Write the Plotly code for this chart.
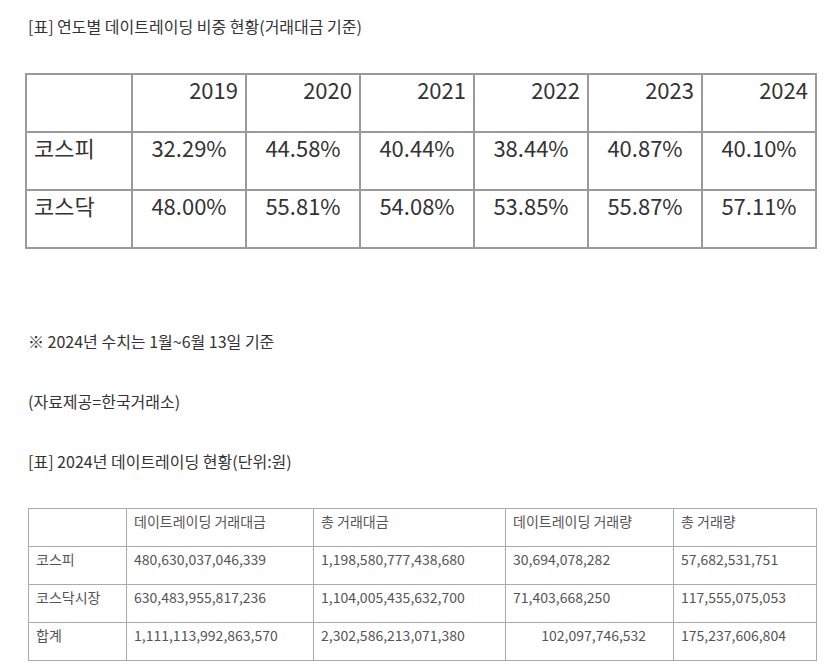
import plotly.graph_objects as go

W, H = 830, 665

# table 1 data
years = ['2019', '2020', '2021', '2022', '2023', '2024']
markets1 = ['코스피', '코스닥']
kospi_share = ['32.29%', '44.58%', '40.44%', '38.44%', '40.87%', '40.10%']
kosdaq_share = ['48.00%', '55.81%', '54.08%', '53.85%', '55.87%', '57.11%']

# table 2 data
headers2 = ['', '데이트레이딩 거래대금', '총 거래대금', '데이트레이딩 거래량', '총 거래량']
markets2 = ['코스피', '코스닥시장', '합계']
day_value = ['480,630,037,046,339', '630,483,955,817,236', '1,111,113,992,863,570']
total_value = ['1,198,580,777,438,680', '1,104,005,435,632,700', '2,302,586,213,071,380']
day_volume = ['30,694,078,282', '71,403,668,250', '102,097,746,532']
total_volume = ['57,682,531,751', '117,555,075,053', '175,237,606,804']


def dom(x0, x1, y0, y1):
    return dict(x=[x0 / W, x1 / W], y=[1 - y1 / H, 1 - y0 / H])


fig = go.Figure()

cols1 = [markets1] + [[kospi_share[i], kosdaq_share[i]] for i in range(len(years))]
fig.add_trace(go.Table(
    domain=dom(18, 808, 66, 242),
    columnwidth=[106] + [114] * 6,
    header=dict(values=[''] + years, height=58, align=['left'] + ['right'] * 6,
                line=dict(color='#9a9a9a', width=2), fill_color='white',
                font=dict(family='Noto Sans CJK KR', size=22, color='#333')),
    cells=dict(values=cols1, height=58, align=['left'] + ['center'] * 6,
               line=dict(color='#9a9a9a', width=2), fill_color='white',
               font=dict(family='Noto Sans CJK KR', size=22, color='#333')),
))

# the last day-volume value sits right-aligned in the source, pad it
day_volume_shown = day_volume[:2] + ['\u00a0' * 9 + day_volume[2]]
cols2 = [markets2, day_value, total_value, day_volume_shown, total_volume]
fig.add_trace(go.Table(
    domain=dom(20, 808, 500, 654),
    columnwidth=[98, 187, 192, 168, 143],
    header=dict(values=headers2, height=38, align='left',
                line=dict(color='#aaaaaa', width=1), fill_color='white',
                font=dict(family='Noto Sans CJK KR', size=14, color='#555')),
    cells=dict(values=cols2, height=38, align='left',
               line=dict(color='#aaaaaa', width=1), fill_color='white',
               font=dict(family='Noto Sans CJK KR', size=14, color='#555')),
))

texts = [
    ('[표] 연도별 데이트레이딩 비중 현황(거래대금 기준)', 18),
    ('※ 2024년 수치는 1월~6월 13일 기준', 333),
    ('(자료제공=한국거래소)', 393),
    ('[표] 2024년 데이트레이딩 현황(단위:원)', 453),
]
for t, py in texts:
    fig.add_annotation(text=t, x=18 / W, y=1 - py / H, xref='paper', yref='paper',
                       xanchor='left', yanchor='middle', showarrow=False,
                       font=dict(family='Noto Sans CJK KR', size=16, color='#333'))

fig.update_layout(width=W, height=H, margin=dict(l=0, r=0, t=0, b=0),
                  paper_bgcolor='white', plot_bgcolor='white')

fig.write_html('out.html')
